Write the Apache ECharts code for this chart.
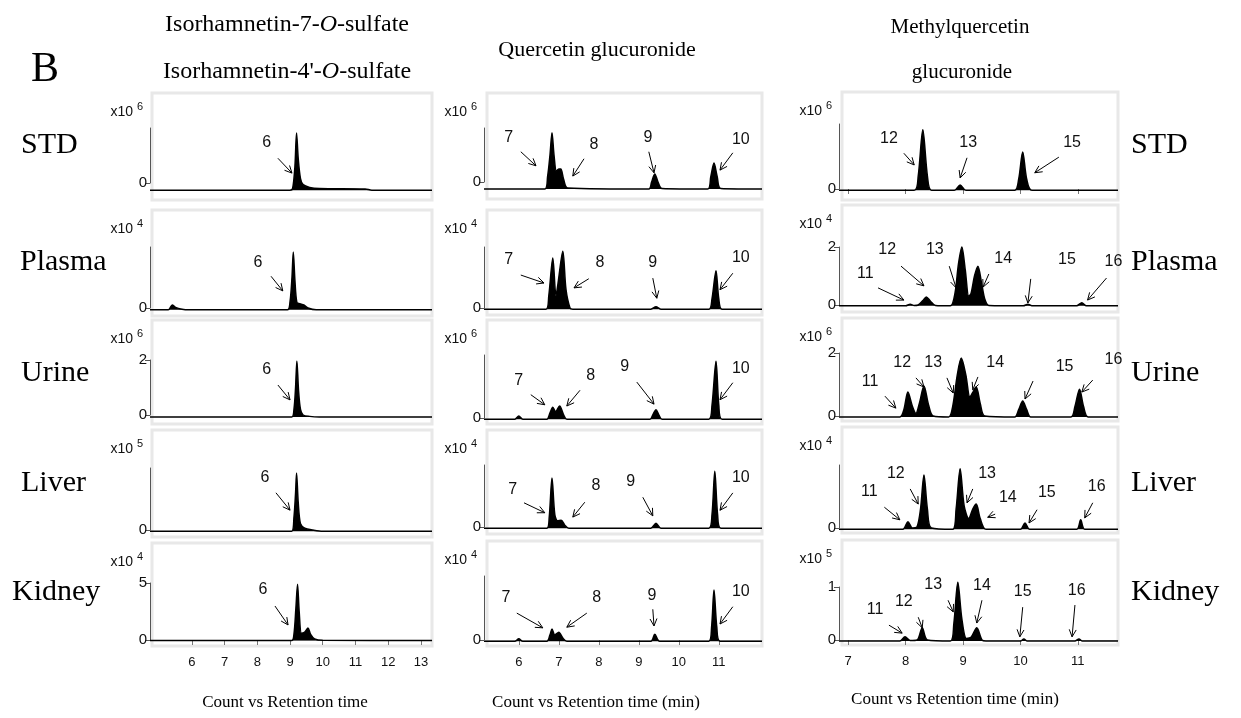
<!DOCTYPE html>
<html>
<head>
<meta charset="utf-8">
<script src="https://cdn.jsdelivr.net/npm/echarts@6/dist/echarts.min.js"></script>
<style>
html, body { margin: 0; padding: 0; background: #fff; }
#main { width: 1241px; height: 718px; }
</style>
</head>
<body>
<div id="main"></div>
<script>
// row / column names
const tissues = ['STD', 'Plasma', 'Urine', 'Liver', 'Kidney'];
const isoTicksX = [6, 7, 8, 9, 10, 11, 12, 13];
const qgTicksX = [6, 7, 8, 9, 10, 11];
const mqgTicksX = [7, 8, 9, 10, 11];

// x10^n of every panel and the labelled y values
const isoExp = [6, 4, 6, 5, 4];
const qgExp = [6, 4, 6, 4, 4];
const mqgExp = [6, 4, 6, 4, 5];
const isoYTicks = [[0], [0], [0, 2], [0], [0, 5]];
const qgYTicks = [[0], [0], [0], [0], [0]];
const mqgYTicks = [[0], [0, 2], [0, 2], [0], [0, 1]];
const isoYMax = [1, 1, 2, 1, 5];
const qgYMax = [1, 1, 1, 1, 1];
const mqgYMax = [1, 2, 2, 1, 1];

// chromatograms [retention time (min), count]
const isoSTD = [[4.72,-0.13],[9.0,-0.13],[9.08,-0.1],[9.15,0.3],[9.2,0.91],[9.25,0.45],[9.32,0.08],[9.4,-0.03],[9.6,-0.08],[9.9,-0.1],[11.3,-0.11],[11.5,-0.13],[13.34,-0.13]];
const isoPlasma = [[4.72,-0.03],[5.28,-0.03],[5.4,0.05],[5.5,0.01],[5.7,-0.02],[5.9,-0.03],[8.92,-0.03],[9.0,0.1],[9.06,0.5],[9.1,0.92],[9.15,0.45],[9.21,0.09],[9.3,0.07],[9.42,0.05],[9.55,0.0],[9.8,-0.03],[13.34,-0.03]];
const isoUrine = [[4.72,-0.07],[9.05,-0.07],[9.12,0.2],[9.17,1.0],[9.21,1.96],[9.26,0.9],[9.32,0.2],[9.4,0.0],[9.6,-0.05],[9.9,-0.07],[13.34,-0.07]];
const isoLiver = [[4.72,-0.02],[9.05,-0.02],[9.12,0.2],[9.17,0.6],[9.2,0.92],[9.25,0.45],[9.32,0.1],[9.45,0.03],[9.7,0.0],[10.0,-0.02],[13.34,-0.02]];
const isoKidney = [[4.72,-0.05],[9.05,-0.05],[9.12,0.5],[9.18,2.8],[9.23,4.9],[9.28,2.5],[9.35,0.6],[9.45,0.7],[9.55,1.05],[9.63,0.5],[9.75,0.1],[10.0,-0.03],[13.34,-0.05]];

const qgSTD = [[5.13,-0.13],[6.65,-0.13],[6.72,0.1],[6.78,0.5],[6.83,0.91],[6.88,0.5],[6.94,0.2],[7.0,0.24],[7.05,0.24],[7.12,0.05],[7.22,-0.11],[9.25,-0.13],[9.32,0.0],[9.4,0.15],[9.48,0.0],[9.58,-0.12],[10.72,-0.13],[10.8,0.1],[10.88,0.35],[10.96,0.1],[11.05,-0.12],[12.08,-0.13]];
const qgPlasma = [[5.13,-0.02],[6.68,-0.02],[6.75,0.2],[6.85,0.82],[6.93,0.2],[6.98,0.4],[7.1,0.93],[7.18,0.3],[7.28,0.0],[7.35,-0.02],[9.3,-0.02],[9.43,0.02],[9.55,-0.02],[10.75,-0.02],[10.83,0.15],[10.93,0.61],[11.0,0.15],[11.08,-0.02],[12.08,-0.02]];
const qgUrine = [[5.13,-0.02],[5.9,-0.02],[6.0,0.03],[6.1,-0.02],[6.7,-0.02],[6.78,0.08],[6.85,0.17],[6.92,0.1],[7.02,0.19],[7.12,0.05],[7.2,-0.02],[9.28,-0.02],[9.35,0.05],[9.43,0.13],[9.5,0.05],[9.58,-0.02],[10.75,-0.02],[10.83,0.2],[10.93,0.9],[11.0,0.2],[11.08,-0.02],[12.08,-0.02]];
const qgLiver = [[5.13,-0.02],[6.7,-0.02],[6.76,0.15],[6.83,0.79],[6.9,0.2],[6.97,0.1],[7.06,0.11],[7.15,0.03],[7.25,-0.02],[9.3,-0.02],[9.43,0.06],[9.55,-0.02],[10.75,-0.02],[10.83,0.2],[10.9,0.9],[10.97,0.2],[11.05,-0.02],[12.08,-0.02]];
const qgKidney = [[5.13,-0.02],[5.9,-0.02],[6.0,0.02],[6.1,-0.02],[6.7,-0.02],[6.78,0.08],[6.83,0.17],[6.9,0.08],[7.0,0.12],[7.1,0.03],[7.2,-0.02],[9.3,-0.02],[9.4,0.09],[9.52,-0.02],[10.75,-0.02],[10.82,0.2],[10.88,0.78],[10.95,0.2],[11.03,-0.02],[12.08,-0.02]];

const mqgSTD = [[6.84,-0.02],[8.15,-0.02],[8.22,0.2],[8.3,0.91],[8.38,0.2],[8.45,-0.02],[8.85,-0.02],[8.95,0.06],[9.05,-0.02],[9.9,-0.02],[9.97,0.15],[10.04,0.57],[10.11,0.15],[10.2,-0.02],[11.7,-0.02]];
const mqgPlasma = [[6.84,-0.03],[8.0,-0.03],[8.08,0.03],[8.15,-0.02],[8.22,0.0],[8.3,0.15],[8.36,0.28],[8.43,0.14],[8.52,-0.02],[8.78,-0.03],[8.86,0.4],[8.92,1.4],[8.98,2.0],[9.04,1.2],[9.1,0.3],[9.14,0.4],[9.2,1.0],[9.26,1.34],[9.32,0.8],[9.38,0.2],[9.45,-0.02],[10.05,-0.03],[10.13,0.03],[10.2,-0.03],[10.98,-0.03],[11.07,0.08],[11.15,-0.03],[11.7,-0.03]];
const mqgUrine = [[6.84,-0.03],[7.9,-0.03],[7.97,0.2],[8.04,0.76],[8.12,0.3],[8.18,0.08],[8.24,0.4],[8.32,0.95],[8.4,0.35],[8.48,0.0],[8.75,-0.03],[8.82,0.3],[8.9,1.3],[8.97,1.84],[9.05,1.3],[9.12,0.6],[9.17,0.75],[9.23,0.92],[9.3,0.4],[9.38,0.0],[9.9,-0.03],[9.97,0.2],[10.04,0.48],[10.11,0.2],[10.18,-0.03],[10.88,-0.03],[10.95,0.3],[11.03,0.85],[11.1,0.3],[11.18,-0.03],[11.7,-0.03]];
const mqgLiver = [[6.84,-0.02],[7.95,-0.02],[8.04,0.1],[8.12,0.0],[8.2,0.02],[8.26,0.3],[8.32,0.84],[8.38,0.3],[8.45,0.0],[8.82,-0.02],[8.88,0.3],[8.95,0.94],[9.02,0.35],[9.1,0.15],[9.17,0.3],[9.23,0.38],[9.3,0.15],[9.4,-0.02],[10.0,-0.02],[10.08,0.08],[10.16,-0.02],[10.98,-0.02],[11.05,0.13],[11.12,-0.02],[11.7,-0.02]];
const mqgKidney = [[6.84,-0.02],[7.9,-0.02],[7.99,0.06],[8.08,-0.01],[8.2,0.0],[8.29,0.23],[8.38,0.0],[8.78,-0.02],[8.84,0.3],[8.91,1.09],[8.98,0.4],[9.06,0.03],[9.14,0.05],[9.24,0.23],[9.33,0.0],[9.4,-0.02],[10.0,-0.02],[10.06,0.02],[10.12,-0.02],[10.95,-0.02],[11.02,0.02],[11.08,-0.02],[11.7,-0.02]];

// peak numbers: [text, label point, arrow tail, arrow head] in data units
const isoLabels = [
  [['6', [8.29, 0.73], [8.63, 0.45], [9.06, 0.18]]],
  [['6', [8.02, 0.75], [8.42, 0.52], [8.78, 0.28]]],
  [['6', [8.29, 1.64], [8.63, 1.09], [9.0, 0.55]]],
  [['6', [8.23, 0.84], [8.57, 0.6], [9.0, 0.32]]],
  [['6', [8.17, 4.39], [8.54, 2.98], [8.94, 1.32]]]
];
const qgLabels = [
  [['7', [5.75, 0.83], [6.05, 0.56], [6.43, 0.3]], ['8', [7.88, 0.69], [7.63, 0.43], [7.35, 0.11]],
   ['9', [9.23, 0.83], [9.25, 0.56], [9.38, 0.17]], ['10', [11.55, 0.78], [11.35, 0.54], [11.03, 0.22]]],
  [['7', [5.75, 0.79], [6.05, 0.54], [6.63, 0.41]], ['8', [8.03, 0.74], [7.75, 0.48], [7.38, 0.33]],
   ['9', [9.35, 0.74], [9.35, 0.49], [9.45, 0.16]], ['10', [11.55, 0.82], [11.35, 0.57], [11.03, 0.3]]],
  [['7', [6.0, 0.6], [6.3, 0.37], [6.65, 0.21]], ['8', [7.8, 0.68], [7.53, 0.44], [7.2, 0.19]],
   ['9', [8.65, 0.81], [8.95, 0.57], [9.38, 0.22]], ['10', [11.55, 0.79], [11.35, 0.56], [11.03, 0.29]]],
  [['7', [5.85, 0.61], [6.13, 0.39], [6.65, 0.23]], ['8', [7.93, 0.66], [7.65, 0.4], [7.35, 0.16]],
   ['9', [8.8, 0.73], [9.1, 0.48], [9.35, 0.18]], ['10', [11.55, 0.79], [11.35, 0.55], [11.03, 0.27]]],
  [['7', [5.68, 0.67], [5.95, 0.42], [6.6, 0.19]], ['8', [7.95, 0.67], [7.7, 0.42], [7.2, 0.2]],
   ['9', [9.33, 0.7], [9.35, 0.48], [9.38, 0.22]], ['10', [11.55, 0.75], [11.35, 0.52], [11.03, 0.25]]]
];
const mqgLabels = [
  [['12', [7.71, 0.78], [7.97, 0.55], [8.15, 0.37]], ['13', [9.09, 0.71], [9.07, 0.48], [8.95, 0.17]],
   ['15', [10.9, 0.71], [10.67, 0.49], [10.25, 0.25]]],
  [['11', [7.3, 1.1], [7.52, 0.59], [7.97, 0.17]], ['12', [7.68, 1.9], [7.92, 1.34], [8.32, 0.66]],
   ['13', [8.51, 1.9], [8.76, 1.34], [8.88, 0.59]], ['14', [9.7, 1.59], [9.45, 1.07], [9.35, 0.62]],
   ['15', [10.81, 1.55], [10.18, 0.9], [10.13, 0.07]], ['16', [11.62, 1.48], [11.5, 0.93], [11.17, 0.17]]],
  [['11', [7.38, 1.08], [7.64, 0.63], [7.83, 0.25]], ['12', [7.94, 1.68], [8.18, 1.21], [8.32, 0.92]],
   ['13', [8.48, 1.68], [8.72, 1.21], [8.83, 0.73]], ['14', [9.56, 1.68], [9.26, 1.24], [9.17, 0.83]],
   ['15', [10.77, 1.56], [10.22, 1.11], [10.08, 0.54]], ['16', [11.62, 1.78], [11.26, 1.14], [11.07, 0.76]]],
  [['11', [7.37, 0.57], [7.63, 0.33], [7.9, 0.13]], ['12', [7.83, 0.87], [8.08, 0.62], [8.22, 0.38]],
   ['13', [9.42, 0.87], [9.17, 0.62], [9.07, 0.4]], ['14', [9.78, 0.48], [9.56, 0.22], [9.43, 0.17]],
   ['15', [10.46, 0.56], [10.29, 0.29], [10.15, 0.08]], ['16', [11.33, 0.65], [11.26, 0.4], [11.12, 0.16]]],
  [['11', [7.47, 0.57], [7.71, 0.28], [7.94, 0.13]], ['12', [7.97, 0.72], [8.22, 0.43], [8.29, 0.23]],
   ['13', [8.48, 1.04], [8.74, 0.75], [8.83, 0.53]], ['14', [9.33, 1.02], [9.33, 0.75], [9.24, 0.32]],
   ['15', [10.04, 0.91], [10.04, 0.62], [9.99, 0.06]], ['16', [10.98, 0.94], [10.95, 0.66], [10.9, 0.06]]]
];

const serif = '"Times New Roman", "Liberation Serif", serif';
const sans = 'Arial, "Liberation Sans", sans-serif';

// panel layout (pixels): axis x, right edge, each row's axis top / zero / frame
const columns = [
  { axisX: 150, frameX: 152, right: 432, xMin: 4.72, xMax: 13.34, xTicks: isoTicksX,
    exp: isoExp, yTicks: isoYTicks, yMax: isoYMax, labels: isoLabels,
    data: [isoSTD, isoPlasma, isoUrine, isoLiver, isoKidney],
    rows: [[128, 183, 93, 200], [247, 308, 210, 316], [360, 415, 320, 424], [468, 530, 430, 537], [583, 640, 543, 646]] },
  { axisX: 484, frameX: 487, right: 762, xMin: 5.13, xMax: 12.08, xTicks: qgTicksX,
    exp: qgExp, yTicks: qgYTicks, yMax: qgYMax, labels: qgLabels,
    data: [qgSTD, qgPlasma, qgUrine, qgLiver, qgKidney],
    rows: [[128, 182, 93, 199], [247, 308, 210, 315], [355, 418, 320, 424], [465, 527, 430, 534], [576, 640, 541, 646]] },
  { axisX: 839, frameX: 842, right: 1118, xMin: 6.84, xMax: 11.7, xTicks: mqgTicksX,
    exp: mqgExp, yTicks: mqgYTicks, yMax: mqgYMax, labels: mqgLabels,
    data: [mqgSTD, mqgPlasma, mqgUrine, mqgLiver, mqgKidney],
    rows: [[124, 189, 92, 200], [247, 305, 205, 312], [353, 416, 318, 421], [465, 528, 427, 533], [587, 640, 540, 645]] }
];

var myChart = echarts.init(document.getElementById('main'));
const grid = [], xAxis = [], yAxis = [], series = [];
const panels = [];

columns.forEach((c, ci) => {
  c.rows.forEach((r, ri) => {
    const i = grid.length;
    const [top, zero, fTop, fBottom] = r;
    panels.push({ i, c, ri, r });
    grid.push({ left: c.axisX, top: top, width: c.right - c.axisX, height: zero - top });
    const bottomRow = ri === 4;
    const tickRow = bottomRow || (ci === 2 && ri === 0);
    xAxis.push({
      gridIndex: i, type: 'value', min: c.xMin, max: c.xMax,
      show: tickRow,
      offset: fBottom - zero + (bottomRow ? 2 : 0),
      axisLine: { show: bottomRow, lineStyle: { color: '#c8c8c8', width: 1 } },
      axisTick: { show: true, length: 5, customValues: c.xTicks, lineStyle: { color: '#777' } },
      axisLabel: { show: bottomRow, customValues: c.xTicks, fontSize: 13, fontFamily: sans, color: '#111', margin: 8 },
      splitLine: { show: false }
    });
    yAxis.push({
      gridIndex: i, type: 'value', min: 0, max: c.yMax[ri],
      axisLine: { show: true, lineStyle: { color: '#555', width: 1 } },
      axisTick: { show: true, length: 5, customValues: c.yTicks[ri], lineStyle: { color: '#555' } },
      axisLabel: { customValues: c.yTicks[ri], fontSize: 15, fontFamily: sans, color: '#111', margin: 3 },
      splitLine: { show: false }
    });
    const d = c.data[ri];
    series.push({
      type: 'line', xAxisIndex: i, yAxisIndex: i, data: d,
      symbol: 'none', smooth: 0.3, clip: false, silent: true,
      lineStyle: { color: '#000', width: 1.5 },
      areaStyle: { color: '#000', opacity: 1, origin: d[0][1] }
    });
  });
});

myChart.setOption({
  animation: false,
  backgroundColor: '#fff',
  grid, xAxis, yAxis, series
});

// frames, texts, peak arrows
const elements = [];
function text(x, y, t, font, align, fill) {
  elements.push({
    type: 'text', x: x, y: y, z: 20,
    style: { text: t, font: font, fill: fill || '#000', align: align || 'center', textAlign: align || 'center',
      verticalAlign: 'middle', textVerticalAlign: 'middle' }
  });
}

panels.forEach(p => {
  const { i, c, ri, r } = p;
  const [top, zero, fTop, fBottom] = r;
  elements.push({
    type: 'rect', z: 0,
    shape: { x: c.frameX, y: fTop, width: c.right - c.frameX, height: fBottom - fTop },
    style: { fill: 'none', stroke: '#e8e8e8', lineWidth: 3 }
  });
  text(c.axisX - 17, fTop + 19, 'x10', '14px ' + sans, 'right', '#111');
  text(c.axisX - 13, fTop + 14, String(c.exp[ri]), '11px ' + sans, 'left', '#111');
  c.labels[ri].forEach(a => {
    const lp = myChart.convertToPixel({ gridIndex: i }, a[1]);
    const t0 = myChart.convertToPixel({ gridIndex: i }, a[2]);
    const t1 = myChart.convertToPixel({ gridIndex: i }, a[3]);
    text(lp[0], lp[1], a[0], '16px ' + sans, 'center', '#111');
    elements.push({ type: 'line', z: 20, shape: { x1: t0[0], y1: t0[1], x2: t1[0], y2: t1[1] },
      style: { stroke: '#000', lineWidth: 1 } });
    const ang = Math.atan2(t1[1] - t0[1], t1[0] - t0[0]);
    const len = 8, spread = 0.45;
    elements.push({ type: 'polyline', z: 20,
      shape: { points: [
        [t1[0] - len * Math.cos(ang - spread), t1[1] - len * Math.sin(ang - spread)],
        [t1[0], t1[1]],
        [t1[0] - len * Math.cos(ang + spread), t1[1] - len * Math.sin(ang + spread)]
      ] },
      style: { stroke: '#000', fill: 'none', lineWidth: 1 } });
  });
});

// row names on both sides
const leftX = [21, 20, 21, 21, 12];
const rowY = [145, 262, 373, 483, 592];
tissues.forEach((t, k) => {
  text(leftX[k], rowY[k], t, '30px ' + serif, 'left');
  text(1131, rowY[k], t, '30px ' + serif, 'left');
});

// titles
function richTitle(x, y, parts, size) {
  elements.push({
    type: 'text', x: x, y: y, z: 20,
    style: {
      text: parts.map(p => '{' + (p[1] ? 'i' : 'n') + '|' + p[0] + '}').join(''),
      rich: {
        n: { fontFamily: serif, fontSize: size, fill: '#000' },
        i: { fontFamily: serif, fontSize: size, fontStyle: 'italic', fill: '#000' }
      },
      align: 'center', textAlign: 'center', verticalAlign: 'middle', textVerticalAlign: 'middle'
    }
  });
}
richTitle(287, 25, [['Isorhamnetin-7-'], ['O', true], ['-sulfate']], 24);
richTitle(287, 72, [['Isorhamnetin-4\'-'], ['O', true], ['-sulfate']], 24);
richTitle(597, 50, [['Quercetin glucuronide']], 22);
richTitle(960, 27, [['Methylquercetin']], 21);
richTitle(962, 72, [['glucuronide']], 21);
text(45, 70, 'B', '42px ' + serif, 'center');

text(285, 703, 'Count vs Retention time', '17px ' + serif, 'center');
text(596, 703, 'Count vs Retention time (min)', '17px ' + serif, 'center');
text(955, 700, 'Count vs Retention time (min)', '17px ' + serif, 'center');

myChart.setOption({ graphic: { elements: elements } });
</script>
</body>
</html>
